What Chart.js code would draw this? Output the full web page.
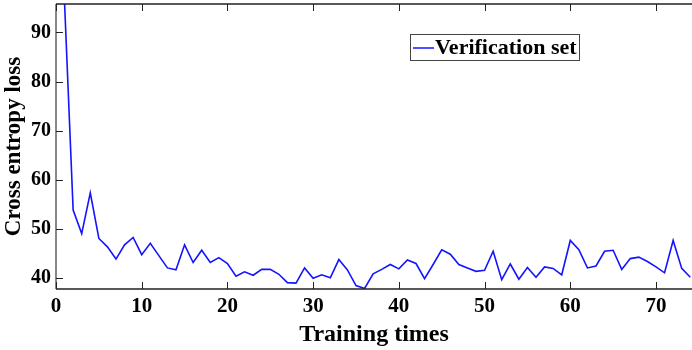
<!DOCTYPE html>
<html>
<head>
<meta charset="utf-8">
<script src="https://cdn.jsdelivr.net/npm/chart.js@4"></script>
<style>
  html, body { margin: 0; padding: 0; background: #fff; }
  #wrap { width: 692px; height: 350px; }
</style>
</head>
<body>
<div id="wrap"><canvas id="myChart" width="692" height="350"></canvas></div>
<script>
// training step 1..74
const epochs = [];
for (let i = 1; i <= 74; i++) epochs.push(i);

const lossValues = [
  96.0, 53.8, 49.0, 57.3, 48.0, 46.3, 43.8, 46.7, 48.2, 44.7,
  47.0, 44.5, 42.0, 41.6, 46.7, 43.1, 45.6, 43.1, 44.1, 42.9,
  40.3, 41.2, 40.5, 41.7, 41.7, 40.7, 39.0, 38.9, 42.0, 39.9,
  40.6, 40.0, 43.7, 41.6, 38.4, 37.8, 40.8, 41.7, 42.7, 41.8,
  43.6, 42.9, 39.8, 42.7, 45.7, 44.8, 42.7, 42.0, 41.3, 41.5,
  45.4, 39.6, 42.8, 39.7, 42.1, 40.1, 42.2, 41.9, 40.6, 47.6,
  45.7, 42.0, 42.4, 45.4, 45.6, 41.7, 43.9, 44.2, 43.3, 42.2,
  41.0, 47.6, 41.9, 40.1
];

const xTicks = [0, 10, 20, 30, 40, 50, 60, 70];
const yTicks = [40, 50, 60, 70, 80, 90];

const points = epochs.map(function(e, i){ return {x: e, y: lossValues[i]}; });

const font = "'Liberation Serif', 'Times New Roman', serif";

// inside ticks, box lines and legend in matlab style
const matlabBox = {
  id: 'matlabBox',
  afterDraw: function(chart){
    const ctx = chart.ctx;
    const a = chart.chartArea;
    const xs = chart.scales.x;
    const ys = chart.scales.y;
    ctx.save();
    ctx.strokeStyle = '#222';
    ctx.lineWidth = 1.5;
    ctx.beginPath();
    ctx.moveTo(a.left, a.top); ctx.lineTo(a.right, a.top);
    ctx.moveTo(a.left, a.bottom); ctx.lineTo(a.right, a.bottom);
    ctx.stroke();
    ctx.strokeStyle = '#888';
    ctx.lineWidth = 2;
    ctx.beginPath();
    ctx.moveTo(a.left, a.top); ctx.lineTo(a.left, a.bottom);
    ctx.stroke();
    ctx.strokeStyle = '#222';
    ctx.lineWidth = 1;
    ctx.beginPath();
    xTicks.forEach(function(t){
      const px = Math.round(xs.getPixelForValue(t)) + 0.5;
      ctx.moveTo(px, a.bottom); ctx.lineTo(px, a.bottom - 7);
      ctx.moveTo(px, a.top); ctx.lineTo(px, a.top + 7);
    });
    yTicks.forEach(function(t){
      const py = Math.round(ys.getPixelForValue(t)) + 0.5;
      ctx.moveTo(a.left, py); ctx.lineTo(a.left + 7, py);
    });
    ctx.stroke();

    // legend
    const bx = 410, by = 34, bw = 169, bh = 26;
    ctx.fillStyle = '#fff';
    ctx.fillRect(bx, by, bw, bh);
    ctx.strokeStyle = '#444';
    ctx.lineWidth = 1;
    ctx.strokeRect(bx + 0.5, by + 0.5, bw, bh);
    const ds = chart.data.datasets[0];
    ctx.strokeStyle = ds.borderColor;
    ctx.lineWidth = 1.5;
    ctx.beginPath();
    ctx.moveTo(bx + 3, by + 14); ctx.lineTo(bx + 24, by + 14);
    ctx.stroke();
    ctx.fillStyle = '#000';
    ctx.font = 'bold 22px ' + font;
    ctx.textBaseline = 'middle';
    ctx.fillText(ds.label, bx + 25, by + 14);
    ctx.restore();
  }
};

const ctx = document.getElementById("myChart").getContext("2d");
const myChart = new Chart(ctx, {
  type: 'line',
  data: {
    datasets: [{
      label: 'Verification set',
      data: points,
      borderColor: '#1414ff',
      borderWidth: 1.6,
      pointRadius: 0,
      tension: 0,
      fill: false
    }]
  },
  options: {
    responsive: false,
    animation: false,
    layout: { padding: { top: 4, right: 0, left: 0, bottom: 0 } },
    plugins: { legend: { display: false }, tooltip: { enabled: false } },
    scales: {
      x: {
        type: 'linear',
        min: 0,
        max: 74.2,
        afterBuildTicks: function(s){ s.ticks = xTicks.map(function(v){ return {value: v}; }); },
        afterFit: function(s){ s.height = 61; s.paddingLeft = 0; s.paddingRight = 0; },
        grid: { display: false, drawTicks: false, tickLength: 0 },
        border: { display: false },
        ticks: { color: '#000', padding: 5, maxRotation: 0, font: { family: font, size: 21, weight: 'bold' } },
        title: { display: true, text: 'Training times', color: '#000', padding: { top: 0, bottom: 1 },
                 font: { family: font, size: 24, weight: 'bold' } }
      },
      y: {
        min: 37.7,
        max: 95.8,
        afterBuildTicks: function(s){ s.ticks = yTicks.map(function(v){ return {value: v}; }); },
        afterFit: function(s){ s.width = 56; s.paddingTop = 0; s.paddingBottom = 0; },
        grid: { display: false, drawTicks: false, tickLength: 0 },
        border: { display: false },
        ticks: { color: '#000', padding: 5, font: { family: font, size: 20, weight: 'bold' } },
        title: { display: true, text: 'Cross entropy loss', color: '#000', padding: { top: 0, bottom: 0 },
                 font: { family: font, size: 23, weight: 'bold' } }
      }
    }
  },
  plugins: [matlabBox]
});
</script>
</body>
</html>
